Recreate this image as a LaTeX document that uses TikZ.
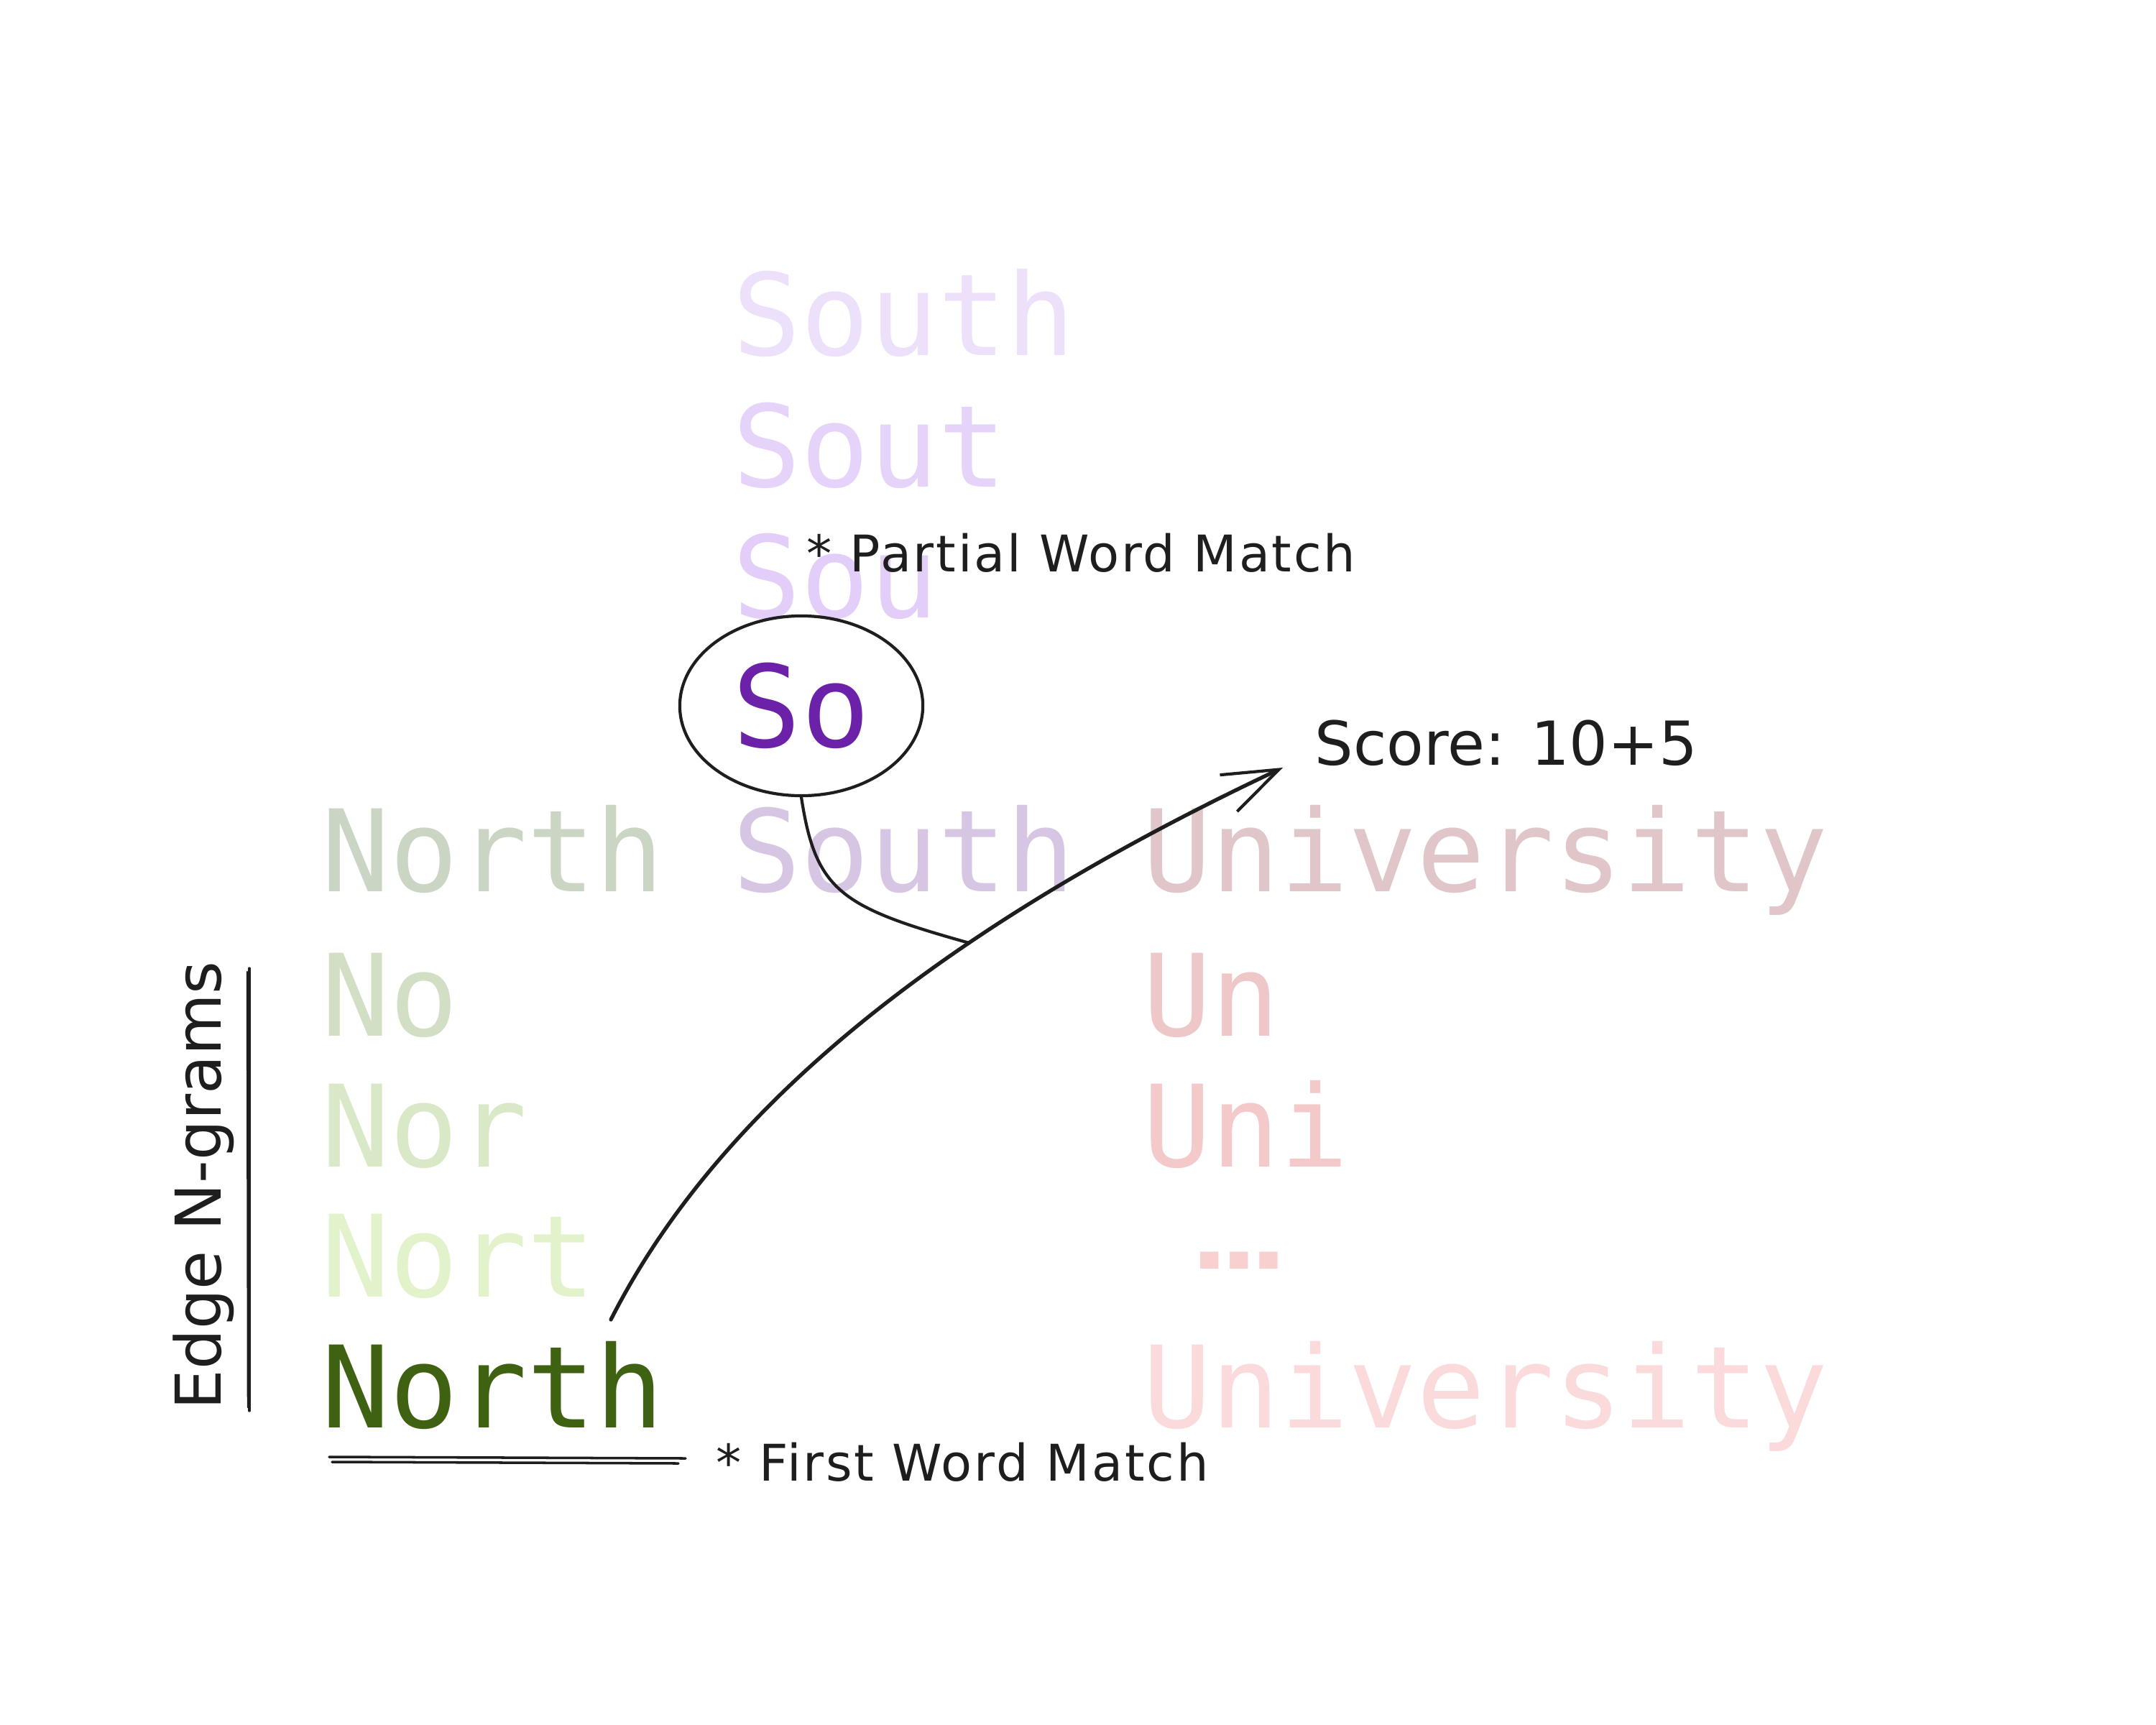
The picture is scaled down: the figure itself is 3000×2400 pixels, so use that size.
\documentclass[tikz,border=0pt]{standalone}
\usepackage{fontspec}
\usetikzlibrary{arrows.meta,shapes.geometric}
\newfontfamily\monofont{DejaVu Sans Mono}
\newfontfamily\handfont{DejaVu Sans}
\newfontfamily\handwide[LetterSpace=4]{DejaVu Sans}
\definecolor{ink}{HTML}{1E1E1E}
\definecolor{southA}{HTML}{EDE0FB}
\definecolor{southB}{HTML}{E6D3FA}
\definecolor{southC}{HTML}{E2CEF8}
\definecolor{soC}{HTML}{6B21A8}
\definecolor{rowN}{HTML}{CBD5C3}
\definecolor{rowS}{HTML}{D6C6E3}
\definecolor{rowU}{HTML}{E0C6C8}
\definecolor{noC}{HTML}{D3DFC5}
\definecolor{norC}{HTML}{D9E8C6}
\definecolor{nortC}{HTML}{E2F2CB}
\definecolor{northC}{HTML}{3F6212}
\definecolor{unC}{HTML}{EEC8C9}
\definecolor{uniC}{HTML}{F3C9CA}
\definecolor{dotsC}{HTML}{F8D0D0}
\definecolor{univC}{HTML}{FBDADB}
\begin{document}
\begin{tikzpicture}[x=0.01cm,y=-0.01cm,
  gram/.style={anchor=base west, inner sep=0pt, font=\monofont\fontsize{45}{54}\selectfont},
  note/.style={anchor=base west, inner sep=0pt, text=ink, font=\handwide\fontsize{20}{24}\selectfont},
  stroke/.style={draw=ink, line width=1.2pt, line cap=round, line join=round},
  arrowline/.style={stroke, line width=1.5pt, -{Straight Barb[length=22pt,width=16pt,line width=1.2pt]}},
]
\useasboundingbox (0,0) rectangle (3000,2400);
\fill[white] (0,0) rectangle (3000,2400);

% South column (partial matches)
\node[gram, text=southA] (s5) at (1019,494) {South};
\node[gram, text=southB] (s4) at (1019,677) {Sout};
\node[gram, text=southC] (s3) at (1019,859) {Sou};

% Full row
\node[gram, text=rowN] (rn) at (447,1240) {North};
\node[gram, text=rowS] (rs) at (1019,1240) {South};
\node[gram, text=rowU] (ru) at (1590,1240) {University};

% North column
\node[gram, text=noC] (n2) at (447,1441) {No};
\node[gram, text=norC] (n3) at (447,1623) {Nor};
\node[gram, text=nortC] (n4) at (447,1804) {Nort};
\node[gram, text=northC] (n5) at (447,1986) {North};

% University column
\node[gram, text=unC] (u2) at (1590,1441) {Un};
\node[gram, text=uniC] (u3) at (1590,1623) {Uni};
\node[gram, text=dotsC, xscale=1.3] (ud) at (1662,1765) {…};
\node[gram, text=univC] (u10) at (1590,1986) {University};

% circled So
\node[draw=ink, line width=1.2pt, ellipse, minimum width=3.38cm, minimum height=2.5cm,
      inner sep=0pt, text=soC, font=\monofont\fontsize{45}{54}\selectfont] (ring) at (1115,982) {So};

% notes
\node[note] (partial) at (1122,795) {* Partial Word Match};
\node[note] (first) at (996,2060) {* First Word Match};
\node[anchor=base west, inner sep=0pt, text=ink, font=\handfont\fontsize{24}{29}\selectfont] (score) at (1829,1064) {Score: 10+5};
\node[anchor=base west, inner sep=0pt, text=ink, rotate=90, font=\handfont\fontsize{25}{30}\selectfont] (edge) at (307,1962) {Edge N-grams};

% bracket line and underline
\draw[stroke, line width=0.9pt] (347,1347) -- (347,1963);
\draw[stroke, line width=0.7pt] (344,1352) -- (345,1958);
\draw[stroke, line width=1pt] (458,2027) -- (954,2029);
\draw[stroke, line width=1pt] (462,2034) -- (944,2036);

% main arrow
\coordinate (a0) at (850,1836);
\coordinate (a1) at (1785,1068);
\draw[arrowline] (a0) .. controls (980,1580) and (1250,1320) .. (a1) coordinate[pos=0.68] (j);

% connector from circle to arrow
\draw[stroke] (ring.south) .. controls (1135,1240) and (1170,1262) .. (j);
\end{tikzpicture}
\end{document}
